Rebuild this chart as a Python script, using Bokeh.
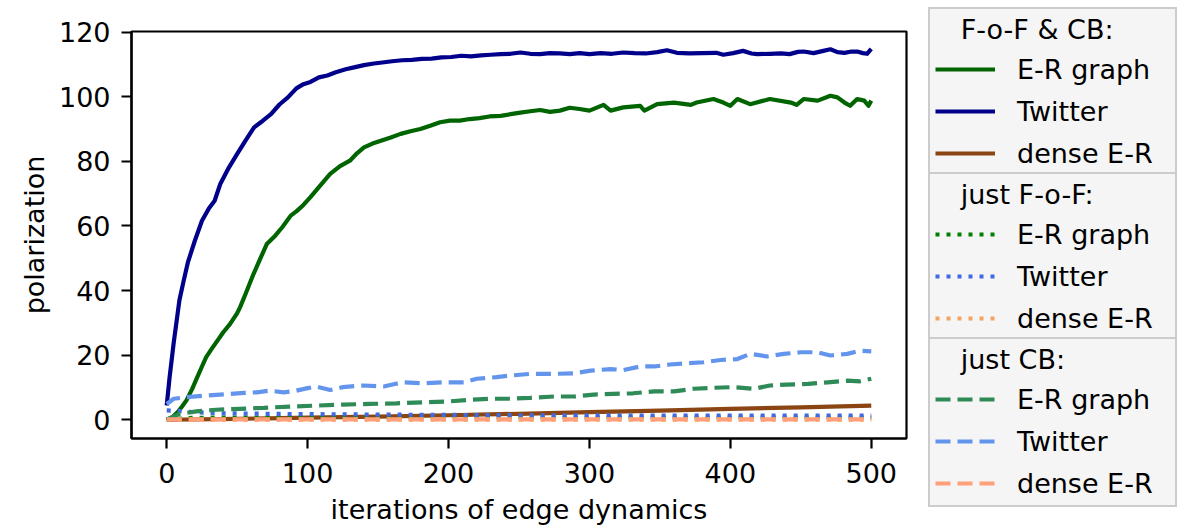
from bokeh.plotting import figure
from bokeh.layouts import row
from bokeh.models import Range1d, FixedTicker, Legend, LegendItem
from bokeh.embed import file_html
from bokeh.resources import INLINE

# ---------------- data ----------------
x_ticks = [0, 100, 200, 300, 400, 500]
y_ticks = [0, 20, 40, 60, 80, 100, 120]

# F-o-F & CB : Twitter
tw_fc_x = [0, 2, 5, 9, 12, 15, 20, 25, 30, 34, 38, 44, 50, 56, 62, 68, 74, 80, 86, 92,
           97, 102, 108, 114, 120, 127, 133, 140, 147, 153, 160, 167, 174, 181, 188, 195,
           202, 209, 216, 223, 230, 237, 244, 251, 258, 265, 272, 279, 286, 293, 300,
           308, 316, 324, 332, 340, 348, 355, 362, 371, 380, 390, 395, 402, 409, 415,
           419, 428, 436, 442, 448, 452, 459, 466, 471, 476, 481, 486, 490, 494, 497, 500]
tw_fc_y = [4.4, 13, 24, 37, 43, 48.7, 55.5, 61.6, 65.5, 67.8, 73, 78, 82.3, 86.5, 90.5,
           92.5, 94.6, 97.6, 99.8, 102.6, 103.9, 104.6, 106, 106.6, 107.6, 108.5, 109.1,
           109.8, 110.3, 110.6, 111.0, 111.3, 111.4, 111.7, 111.8, 112.2, 112.3, 112.7,
           112.5, 112.8, 113.0, 113.2, 113.3, 113.7, 113.3, 113.2, 113.5, 113.4, 113.2,
           113.5, 113.2, 113.5, 113.3, 113.7, 113.5, 113.4, 113.8, 114.4, 113.6, 113.4,
           113.5, 113.6, 113.0, 113.5, 114.2, 113.4, 113.2, 113.3, 113.4, 113.2, 113.9,
           114.0, 113.5, 114.2, 114.7, 113.8, 113.6, 114.0, 114.0, 113.5, 113.3, 114.8]

# F-o-F & CB : E-R graph
er_fc_x = [0, 4, 8, 11, 14, 18, 22, 25, 28, 32, 36, 40, 45, 50, 52, 56, 61, 66, 71, 77,
           82, 88, 92, 97, 102, 108, 116, 123, 130, 135, 140, 146, 152, 159, 166, 173,
           180, 187, 194, 201, 208, 215, 222, 229, 237, 244, 251, 258, 265, 272, 279,
           286, 293, 300, 310, 315, 324, 336, 339, 348, 360, 372, 376, 388, 395, 400,
           405, 414, 428, 443, 447, 452, 462, 471, 476, 481, 485, 490, 495, 498, 500]
er_fc_y = [0, 0.8, 2.5, 4.2, 6, 9.5, 13.5, 16.5, 19.4, 22, 24.5, 27, 29.7, 33, 34.8, 39,
           44.5, 49.5, 54.4, 57, 59.6, 63.2, 64.5, 66.5, 68.9, 72, 76.1, 78.5, 80.2, 82.5,
           84.3, 85.5, 86.4, 87.4, 88.5, 89.3, 90, 91, 92.1, 92.6, 92.6, 93.1, 93.4, 93.9,
           94.1, 94.6, 95.1, 95.5, 95.9, 95.3, 95.7, 96.6, 96.2, 95.7, 97.5, 95.7, 96.7,
           97.2, 95.7, 97.7, 98.2, 97.5, 98.2, 99.3, 98.2, 97.2, 99.3, 97.7, 99.3, 98.2,
           97.5, 99.3, 98.8, 100.3, 99.8, 98.2, 97.2, 99.3, 98.8, 97.2, 98.8]

# F-o-F & CB : dense E-R
dense_fc_x = [0, 50, 100, 150, 200, 250, 300, 350, 400, 450, 500]
dense_fc_y = [0, 0.3, 0.65, 1.0, 1.4, 1.85, 2.35, 2.85, 3.35, 3.85, 4.35]

# just F-o-F
f_x = [0, 10, 20, 40, 80, 150, 250, 350, 500]
er_f_y = [0, 0.4, 0.6, 0.7, 0.7, 0.7, 0.7, 0.7, 0.7]
tw_f_y = [2.9, 2.7, 2.3, 2.0, 1.8, 1.6, 1.4, 1.3, 1.3]
dense_f_y = [0.05, 0.05, 0.05, 0.05, 0.05, 0.05, 0.05, 0.05, 0.05]

# just CB : Twitter
tw_cb_x = [0, 5, 14, 28, 45, 55, 64, 73, 83, 92, 100, 106, 116, 125, 133, 140, 154, 161,
           168, 182, 196, 211, 220, 234, 244, 258, 275, 289, 301, 315, 324, 336, 346,
           357, 369, 381, 393, 405, 414, 426, 438, 450, 462, 471, 483, 492, 500]
tw_cb_y = [4.9, 6.5, 7.0, 7.5, 8.0, 8.3, 8.5, 9.0, 8.5, 9.0, 9.8, 10.3, 9.2, 10.1, 10.4,
           10.6, 10.3, 11.0, 11.6, 11.3, 11.6, 11.6, 12.7, 13.2, 13.7, 14.2, 14.2, 14.4,
           15.2, 15.7, 15.4, 16.5, 16.5, 17.1, 17.5, 17.8, 18.5, 18.8, 20.4, 19.6, 20.4,
           20.9, 20.9, 19.9, 20.4, 21.4, 21.2]

# just CB : E-R graph
er_cb_x = [0, 9, 21, 35, 52, 69, 88, 107, 125, 144, 163, 182, 201, 215, 230, 244, 258,
           275, 289, 303, 317, 331, 346, 360, 374, 388, 402, 417, 428, 440, 455, 469,
           483, 492, 500]
er_cb_y = [0, 1.8, 2.6, 3.1, 3.4, 3.7, 4.1, 4.4, 4.7, 4.9, 5.1, 5.4, 5.7, 6.2, 6.5, 6.5,
           6.8, 7.2, 7.2, 7.8, 8.0, 8.2, 8.8, 8.8, 9.6, 9.9, 10.1, 9.6, 10.6, 10.9, 11.1,
           11.6, 12.1, 11.9, 12.7]

# just CB : dense E-R
dense_cb_x = [0, 100, 200, 300, 400, 500]
dense_cb_y = [0.1, 0.1, 0.1, 0.1, 0.1, 0.1]

labels = ["E-R graph", "Twitter", "dense E-R"]
titles = ["F-o-F & CB:", "just F-o-F:", "just CB:"]

# ---------------- styles ----------------
FONT = "DejaVu Sans"
FS = "27px"
LW = 4.2
DOT = "4 7"
DASH = "15 7"
H = 528

styles = [
    dict(line_color="#006400", line_width=LW, line_join="round"),
    dict(line_color="#00008B", line_width=LW, line_join="round"),
    dict(line_color="#8B4513", line_width=LW, line_join="round"),
    dict(line_color="#008000", line_width=LW, line_dash=DOT),
    dict(line_color="#4169E1", line_width=LW, line_dash=DOT),
    dict(line_color="#F4A460", line_width=LW, line_dash=DOT),
    dict(line_color="#2E8B57", line_width=LW, line_dash=DASH),
    dict(line_color="#6495ED", line_width=LW, line_dash=DASH),
    dict(line_color="#FFA07A", line_width=LW, line_dash=DASH),
]
series = [
    (er_fc_x, er_fc_y), (tw_fc_x, tw_fc_y), (dense_fc_x, dense_fc_y),
    (f_x, er_f_y), (f_x, tw_f_y), (f_x, dense_f_y),
    (er_cb_x, er_cb_y), (tw_cb_x, tw_cb_y), (dense_cb_x, dense_cb_y),
]

# ---------------- main figure ----------------
p = figure(width=920, height=H, output_backend="svg", toolbar_location=None,
           x_range=Range1d(-25, 525), y_range=Range1d(-5.8, 120.2),
           min_border_left=131, min_border_right=14, min_border_top=31,
           min_border_bottom=H - 438)
p.frame_align = False
p.grid.visible = False
p.background_fill_color = "white"
p.border_fill_color = "white"
p.outline_line_color = "black"
p.outline_line_width = 2.2
p.outline_line_alpha = 1

for ax, ticks in ((p.xaxis, x_ticks), (p.yaxis, y_ticks)):
    ax.ticker = FixedTicker(ticks=ticks)
    ax.minor_tick_line_color = None
    ax.major_tick_in = 0
    ax.major_tick_out = 10
    ax.major_tick_line_width = 2.2
    ax.major_tick_line_color = "black"
    ax.axis_line_width = 2.2
    ax.axis_line_color = "black"
    ax.major_label_text_font = FONT
    ax.major_label_text_font_size = FS
    ax.major_label_text_color = "black"
    ax.axis_label_text_font = FONT
    ax.axis_label_text_font_size = FS
    ax.axis_label_text_font_style = "normal"
    ax.axis_label_text_color = "black"

p.xaxis.axis_label = "iterations of edge dynamics"
p.yaxis.axis_label = "polarization"
p.xaxis.major_label_standoff = 14
p.xaxis.axis_label_standoff = 8
p.yaxis.major_label_standoff = 11
p.yaxis.axis_label_standoff = 6

for (xs, ys), st in zip(series, styles):
    p.line(xs, ys, **st)

# ---------------- legend panel ----------------
q = figure(width=275, height=H, output_backend="svg", toolbar_location=None,
           x_range=Range1d(-25, 525), y_range=Range1d(-5.8, 120.2),
           x_axis_type=None, y_axis_type=None,
           min_border_left=0, min_border_right=0, min_border_top=0, min_border_bottom=0)
q.frame_align = False
q.grid.visible = False
q.outline_line_color = None
q.background_fill_color = "white"
q.border_fill_color = "white"

# legend proxies (hidden copies of the series, only used for the legend glyphs)
proxies = []
for (xs, ys), st in zip(series, styles):
    r = q.line(xs, ys, **st)
    r.visible = False
    proxies.append(r)

NB = "\u00a0\u00a0\u00a0"
locs = [(8, H - 177), (8, H - 342), (8, H - 507)]
for k, (title, loc) in enumerate(zip(titles, locs)):
    rends = proxies[3 * k:3 * k + 3]
    leg = Legend(
        items=[LegendItem(label=lab, renderers=[r]) for lab, r in zip(labels, rends)],
        location=loc, orientation="vertical", click_policy="none",
        inactive_fill_alpha=0,
        title=NB + title, title_text_font=FONT, title_text_font_size=FS,
        title_text_font_style="normal", title_text_color="black", title_standoff=7,
        label_text_font=FONT, label_text_font_size=FS, label_text_color="black",
        glyph_width=60, glyph_height=20, label_standoff=22, label_width=153,
        label_height=34, spacing=8, padding=5, margin=0,
        border_line_color="#cccccc", border_line_width=2.5, border_line_alpha=1,
        background_fill_color="#f5f5f5", background_fill_alpha=1,
    )
    q.add_layout(leg, "center")

layout = row(p, q, spacing=0)
open("out.html", "w").write(file_html(layout, INLINE))
